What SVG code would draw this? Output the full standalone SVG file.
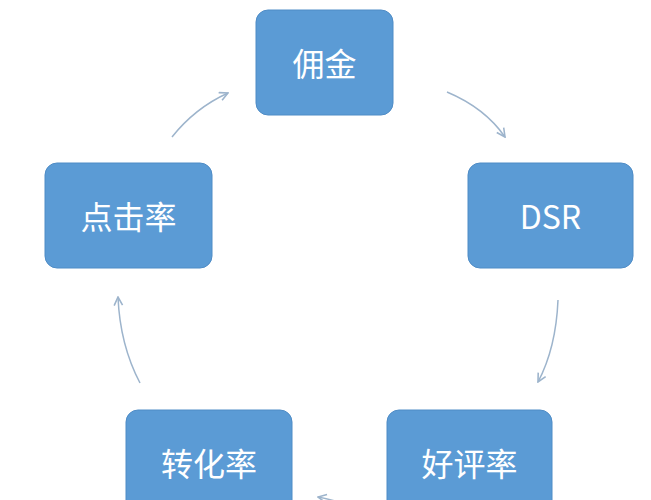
<svg xmlns="http://www.w3.org/2000/svg" width="651" height="500" viewBox="0 0 651 500">
<style>
.n{fill:#5B9BD5;stroke:#4F8CC6;stroke-width:1}
.t{fill:#fff;font-family:"Noto Sans CJK SC","Liberation Sans",sans-serif;font-size:32px;text-anchor:middle;dominant-baseline:central}
.c{fill:none;stroke:#9DB4CC;stroke-width:1.5;marker-end:url(#a)}
</style>
<defs><marker id="a" viewBox="0 0 10 10" refX="9" refY="5" markerWidth="7" markerHeight="7" orient="auto"><path d="M1,1 L9,5 L1,9" fill="none" stroke="#9DB4CC" stroke-width="1.5"/></marker></defs>
<rect width="651" height="500" fill="#fff"/>
<g id="n1"><rect class="n" x="256" y="10" width="137" height="105" rx="12"/><text class="t" x="324.5" y="62">佣金</text></g>
<g id="n2"><rect class="n" x="468" y="163" width="165" height="105" rx="12"/><text class="t" x="550.5" y="215" font-family="Liberation Sans">DSR</text></g>
<g id="n3"><rect class="n" x="387" y="410" width="165" height="110" rx="12"/><text class="t" x="469.5" y="462">好评率</text></g>
<g id="n4"><rect class="n" x="126" y="410" width="166" height="110" rx="12"/><text class="t" x="209" y="462">转化率</text></g>
<g id="n5"><rect class="n" x="45" y="163" width="167" height="105" rx="12"/><text class="t" x="128.5" y="215">点击率</text></g>
<g id="edges">
<path class="c" d="M447,92 Q485,108 505,137"/>
<path class="c" d="M558,300 Q556,348 538,382"/>
<path class="c" d="M370,515 Q345,502 318,497"/>
<path class="c" d="M140,383 Q120,345 118,297"/>
<path class="c" d="M172,137 Q195,108 228,93"/>
</g>
</svg>
